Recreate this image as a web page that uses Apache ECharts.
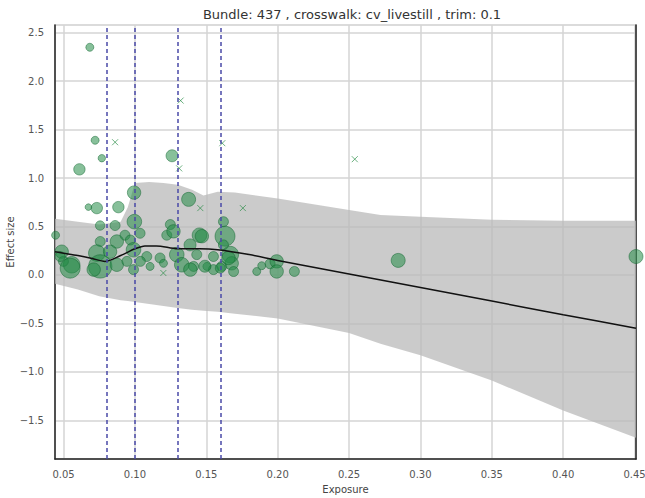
<!DOCTYPE html>
<html><head><meta charset="utf-8">
<script src="https://cdn.jsdelivr.net/npm/echarts@6/dist/echarts.min.js"></script>
<style>html,body{margin:0;padding:0;background:#fff}#c{width:645px;height:498px}</style>
</head><body><div id="c"></div>
<script>
const titleText = 'Bundle: 437 , crosswalk: cv_livestill , trim: 0.1';
const xName = 'Exposure';
const yName = 'Effect size';
const xTicks = [0.05, 0.10, 0.15, 0.20, 0.25, 0.30, 0.35, 0.40, 0.45];
const yTicks = [-1.5, -1.0, -0.5, 0.0, 0.5, 1.0, 1.5, 2.0, 2.5];
const knots = [0.0785, 0.1, 0.13, 0.158];

const fitX = [0.044, 0.05, 0.06, 0.07, 0.079, 0.09, 0.10, 0.107, 0.115, 0.13, 0.145, 0.158, 0.18, 0.20, 0.25, 0.30, 0.35, 0.40, 0.451];
const fitY = [0.24, 0.225, 0.20, 0.17, 0.14, 0.20, 0.27, 0.30, 0.30, 0.27, 0.27, 0.26, 0.21, 0.15, 0.01, -0.13, -0.27, -0.41, -0.55];

const bandX     = [0.044, 0.06, 0.075, 0.09, 0.095, 0.10, 0.11, 0.12, 0.13, 0.14, 0.148, 0.158, 0.17, 0.20, 0.25, 0.272, 0.30, 0.35, 0.40, 0.451];
const bandUpper = [0.58, 0.55, 0.52, 0.55, 0.70, 0.95, 0.96, 0.95, 0.93, 0.88, 0.82, 0.86, 0.85, 0.79, 0.67, 0.62, 0.60, 0.57, 0.56, 0.56];
const bandLower = [-0.09, -0.15, -0.22, -0.26, -0.27, -0.28, -0.30, -0.32, -0.34, -0.36, -0.37, -0.38, -0.40, -0.45, -0.60, -0.71, -0.83, -1.09, -1.40, -1.68];

const obsX = [0.0684, 0.0721, 0.0768, 0.126, 0.0611, 0.0994, 0.1376, 0.0674, 0.0733, 0.0884,
              0.0996, 0.0756, 0.0861, 0.1248, 0.162, 0.0444, 0.1223, 0.127, 0.1452, 0.1631,
              0.093, 0.1036, 0.0757, 0.0873, 0.0968, 0.1386, 0.162, 0.0487, 0.0733, 0.0826,
              0.099, 0.1083, 0.1176, 0.1293, 0.1433, 0.155, 0.1668, 0.0557, 0.0757, 0.0873,
              0.0944, 0.1038, 0.1106, 0.12, 0.1328, 0.1411, 0.1504, 0.1608, 0.1678, 0.0499,
              0.1691, 0.0711, 0.099, 0.1388, 0.155, 0.1655, 0.149, 0.1598, 0.1853, 0.1888,
              0.1947, 0.1993, 0.1993, 0.2117, 0.2844, 0.451, 0.0546, 0.0476, 0.1469];
const obsY = [2.35, 1.39, 1.205, 1.23, 1.09, 0.85, 0.78, 0.70, 0.69, 0.70,
              0.55, 0.51, 0.51, 0.52, 0.55, 0.41, 0.41, 0.45, 0.41, 0.40,
              0.41, 0.43, 0.345, 0.345, 0.36, 0.31, 0.31, 0.24, 0.225, 0.24,
              0.26, 0.19, 0.175, 0.21, 0.21, 0.19, 0.21, 0.105, 0.088, 0.105,
              0.14, 0.14, 0.088, 0.12, 0.105, 0.088, 0.088, 0.088, 0.12, 0.14,
              0.035, 0.055, 0.055, 0.055, 0.055, 0.175, 0.09, 0.07, 0.036, 0.095,
              0.115, 0.14, 0.036, 0.036, 0.15, 0.19, 0.07, 0.19, 0.40];
const obsWeight = [4, 4, 3.7, 6, 5.7, 6.7, 7, 3.3, 5.7, 5.7,
                   7.3, 4.7, 5, 5, 5, 4, 5, 6.7, 7.3, 10,
                   5, 5, 5, 6.7, 5, 6, 5, 6.7, 8.3, 6.7,
                   7.3, 5, 5, 7.3, 5, 5, 8.3, 8.3, 11.7, 6.7,
                   5, 5, 4, 4, 7.3, 5, 4, 5, 6.7, 5,
                   5, 6.7, 5, 6.7, 5, 6.7, 6, 5, 4, 4,
                   5, 6.7, 6.7, 5, 7, 7, 10, 5, 6.7];

const trimX = [0.132, 0.0861, 0.1612, 0.131, 0.1458, 0.1756, 0.254, 0.1199];
const trimY = [1.80, 1.37, 1.36, 1.10, 0.69, 0.69, 1.195, 0.02];

const xMin = 0.044, xMax = 0.451, yMin = -1.9, yMax = 2.58;

const chart = echarts.init(document.getElementById('c'), null, {renderer: 'svg'});
const font = 'DejaVu Sans';
const fitData = fitX.map((x, i) => [x, fitY[i]]);
const obsData = obsX.map((x, i) => [x, obsY[i], obsWeight[i]]);
const trimData = trimX.map((x, i) => [x, trimY[i]]);

chart.setOption({
  animation: false,
  backgroundColor: '#fff',
  title: {
    text: titleText, left: 347, top: 3, textAlign: 'center',
    textStyle: {fontFamily: font, fontSize: 13, fontWeight: 'normal', color: '#333'}
  },
  grid: {left: 55, right: 9, top: 25, bottom: 39, containLabel: false, outerBoundsMode: 'none',
    show: true, borderColor: '#cfcfcf', borderWidth: 1.5},
  xAxis: {
    type: 'value', min: xMin, max: xMax,
    name: xName, nameLocation: 'middle', nameGap: 25, nameMoveOverlap: false,
    nameTextStyle: {fontFamily: font, fontSize: 10, color: '#444'},
    axisLine: {show: true, onZero: false, lineStyle: {color: '#222', width: 1.5}},
    axisTick: {show: false, customValues: xTicks},
    axisLabel: {customValues: xTicks, fontFamily: font, fontSize: 10, color: '#555', margin: 10,
      formatter: v => v.toFixed(2)},
    splitLine: {show: true, lineStyle: {color: '#d4d4d4', width: 1.5}}
  },
  yAxis: [{
    type: 'value', min: yMin, max: yMax,
    name: yName, nameLocation: 'middle', nameGap: 40, nameRotate: 90, nameMoveOverlap: false,
    nameTextStyle: {fontFamily: font, fontSize: 10, color: '#444'},
    axisLine: {show: true, onZero: false, lineStyle: {color: '#222', width: 1.5}},
    axisTick: {show: false, customValues: yTicks},
    axisLabel: {customValues: yTicks, fontFamily: font, fontSize: 10, color: '#555', margin: 11,
      formatter: v => (v < 0 ? '\u2212' + Math.abs(v).toFixed(1) : v.toFixed(1))},
    splitLine: {show: true, lineStyle: {color: '#d4d4d4', width: 1.5}}
  }, {
    type: 'value', min: yMin, max: yMax, position: 'right',
    axisLine: {show: true, onZero: false, lineStyle: {color: '#222', width: 1.5}},
    axisTick: {show: false}, axisLabel: {show: false}, splitLine: {show: false}
  }],
  series: [
    {
      type: 'custom', z: 1, clip: true, silent: true,
      data: [[bandX[0], bandUpper[0]]],
      renderItem: function (params, api) {
        const pts = [];
        for (let i = 0; i < bandX.length; i++) pts.push(api.coord([bandX[i], bandUpper[i]]));
        for (let i = bandX.length - 1; i >= 0; i--) pts.push(api.coord([bandX[i], bandLower[i]]));
        return {type: 'polygon', shape: {points: pts, smooth: 0}, style: {fill: 'rgba(185,185,185,0.75)'}};
      }
    },
    {
      type: 'scatter', z: 2, data: obsData,
      symbolSize: d => d[2] * 2,
      itemStyle: {color: 'rgba(35,140,70,0.68)', borderColor: 'rgba(15,100,45,0.6)', borderWidth: 1}
    },
    {
      type: 'scatter', z: 3, data: trimData, symbolSize: 6,
      symbol: 'path://M0,0L10,10M10,0L0,10',
      itemStyle: {color: 'none', borderColor: 'rgba(40,140,70,0.85)', borderWidth: 1}
    },
    {
      type: 'line', z: 4, data: fitData, showSymbol: false, smooth: 0.3,
      lineStyle: {color: '#111', width: 1.5},
      markLine: {
        silent: true, symbol: 'none', label: {show: false},
        lineStyle: {color: '#4a4aa8', type: [4, 3], width: 1.5},
        data: knots.map(k => ({xAxis: k}))
      }
    }
  ]
});
</script></body></html>
